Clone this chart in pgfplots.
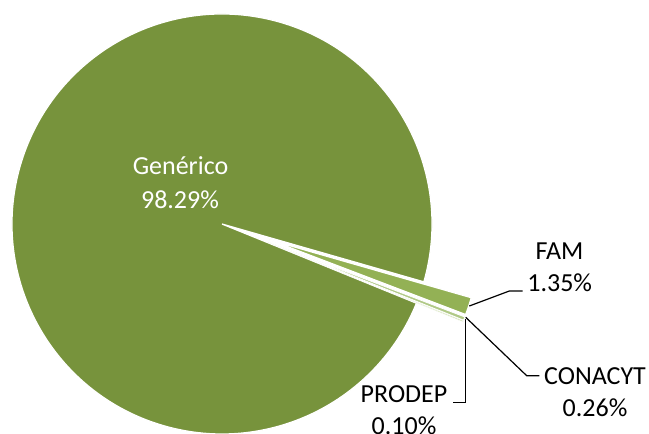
\documentclass[border=0pt]{standalone}
\usepackage{pgfplots}
\pgfplotsset{compat=1.18}
\usepackage{fontspec}
\setmainfont{Carlito}
\definecolor{gen}{HTML}{77933C}
\definecolor{fam}{HTML}{93B155}
\definecolor{con}{HTML}{B0C986}
\definecolor{pro}{HTML}{C8DAA6}
% data (percent)
\def\vGen{98.29}\def\vFam{1.35}\def\vCon{0.26}\def\vPro{0.10}
\newcommand{\lf}{\fontsize{26}{31}\selectfont}
\begin{document}
\begin{tikzpicture}
\pgfmathsetmacro{\aStart}{-16}
\pgfmathsetmacro{\aFamEnd}{\aStart-3.6*\vFam}
\pgfmathsetmacro{\aConEnd}{\aFamEnd-3.6*\vCon}
\pgfmathsetmacro{\aProEnd}{\aConEnd-3.6*\vPro}
\pgfmathsetmacro{\aGenEnd}{\aStart+3.6*\vGen}
\pgfmathsetmacro{\bFam}{(\aStart+\aFamEnd)/2}
\pgfmathsetmacro{\bCon}{(\aFamEnd+\aConEnd)/2}
\pgfmathsetmacro{\bPro}{(\aConEnd+\aProEnd)/2}
\begin{axis}[x=1pt,y=1pt,xmin=0,xmax=649,ymin=0,ymax=434,hide axis,clip=false]
\fill[gen,draw=white,line width=1.3pt] (axis cs:222,210) -- ++(\aStart:210) arc[start angle=\aStart,end angle=\aGenEnd,radius=210] -- cycle;
\fill[fam,draw=white,line width=1.3pt] (axis cs:222,210) ++(\bFam:50) -- ++(\aStart:210) arc[start angle=\aStart,end angle=\aFamEnd,radius=210] -- cycle;
\fill[con,draw=white,line width=0.8pt] (axis cs:222,210) ++(\bCon:50) -- ++(\aFamEnd:210) arc[start angle=\aFamEnd,end angle=\aConEnd,radius=210] -- cycle;
\fill[pro,draw=white,line width=0.5pt] (axis cs:222,210) ++(\bPro:50) -- ++(\aConEnd:210) arc[start angle=\aConEnd,end angle=\aProEnd,radius=210] -- cycle;
% leader lines
\draw[black,line width=1.2pt] (axis cs:469.3,128) -- (axis cs:509.3,143) -- (axis cs:522.7,143);
\draw[black,line width=1.2pt] (axis cs:465.7,116.7) -- (axis cs:526.7,58.3) -- (axis cs:539.3,58.3);
\draw[black,line width=1.2pt] (axis cs:465.3,114.7) -- (axis cs:465.3,31.7) -- (axis cs:453.3,31.7);
% labels
\node[white,anchor=base,font=\lf] at (axis cs:180.5,259) {Genérico};
\node[white,anchor=base,font=\lf] at (axis cs:180,225.7) {98.29\%};
\node[anchor=base,font=\lf] at (axis cs:559.5,174) {FAM};
\node[anchor=base,font=\lf] at (axis cs:559.7,142.3) {1.35\%};
\node[anchor=base,font=\lf] at (axis cs:595,49) {CONACYT};
\node[anchor=base,font=\lf] at (axis cs:595,17.3) {0.26\%};
\node[anchor=base,font=\lf] at (axis cs:404,31.3) {PRODEP};
\node[anchor=base,font=\lf] at (axis cs:404,-0.3) {0.10\%};
\end{axis}
\pgfresetboundingbox
\useasboundingbox (current axis.south west) rectangle (current axis.north east);
\end{tikzpicture}
\end{document}
